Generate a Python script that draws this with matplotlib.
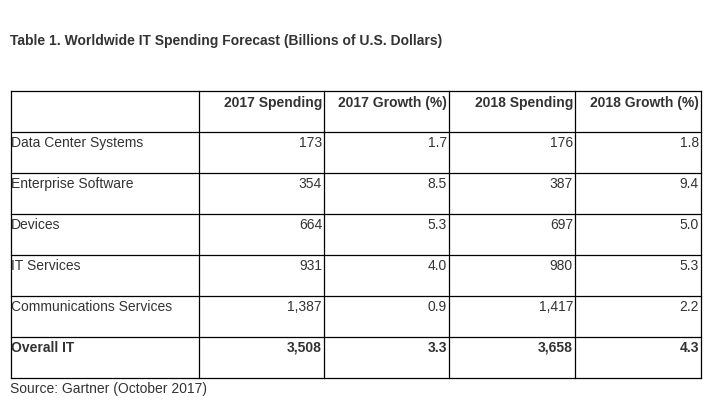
import matplotlib
matplotlib.use("Agg")
import matplotlib.pyplot as plt

title = "Table 1. Worldwide IT Spending Forecast (Billions of U.S. Dollars)"
source = "Source: Gartner (October 2017)"
columns = ["", "2017 Spending", "2017 Growth (%)", "2018 Spending", "2018 Growth (%)"]
categories = ["Data Center Systems", "Enterprise Software", "Devices", "IT Services",
              "Communications Services", "Overall IT"]
spend_2017 = ["173", "354", "664", "931", "1,387", "3,508"]
growth_2017 = ["1.7", "8.5", "5.3", "4.0", "0.9", "3.3"]
spend_2018 = ["176", "387", "697", "980", "1,417", "3,658"]
growth_2018 = ["1.8", "9.4", "5.0", "5.3", "2.2", "4.3"]

W, H = 713, 408
fig = plt.figure(figsize=(W / 100, H / 100), dpi=100)
ax = fig.add_axes([0, 0, 1, 1])
ax.set_xlim(0, W)
ax.set_ylim(H, 0)
ax.axis("off")

font = "Liberation Sans"
color = "#333333"
fs = 10.0

col_x = [10.5, 198.5, 323.5, 448.5, 574.5, 700.5]
top = 90.5
row_h = 41.0
nrows = len(categories) + 1
row_y = [top + i * row_h for i in range(nrows + 1)]

# grid
for y in row_y:
    ax.plot([col_x[0], col_x[-1]], [y, y], color="black", lw=0.9, solid_capstyle="projecting")
for x in col_x:
    ax.plot([x, x], [row_y[0], row_y[-1]], color="black", lw=0.9, solid_capstyle="projecting")

ax.text(10, 45, title, fontsize=fs, fontweight="bold", family=font, color=color, va="baseline")

# header
for j, c in enumerate(columns):
    if c:
        ax.text(col_x[j + 1] - 1.5, row_y[0] + 16, c, fontsize=fs, fontweight="bold",
                family=font, color=color, ha="right", va="baseline")

rows = list(zip(categories, spend_2017, growth_2017, spend_2018, growth_2018))
for i, r in enumerate(rows):
    y = row_y[i + 1] + 15.5
    weight = "bold" if i == len(rows) - 1 else "normal"
    ax.text(col_x[0] + 0.5, y, r[0], fontsize=fs, fontweight=weight, family=font,
            color=color, ha="left", va="baseline")
    for j in range(1, 5):
        ax.text(col_x[j + 1] - 1.5, y, r[j], fontsize=fs, fontweight=weight, family=font,
                color=color, ha="right", va="baseline")

ax.text(10, 393.3, source, fontsize=fs, family=font, color=color, va="baseline")

fig.savefig("out.png", dpi=100)
